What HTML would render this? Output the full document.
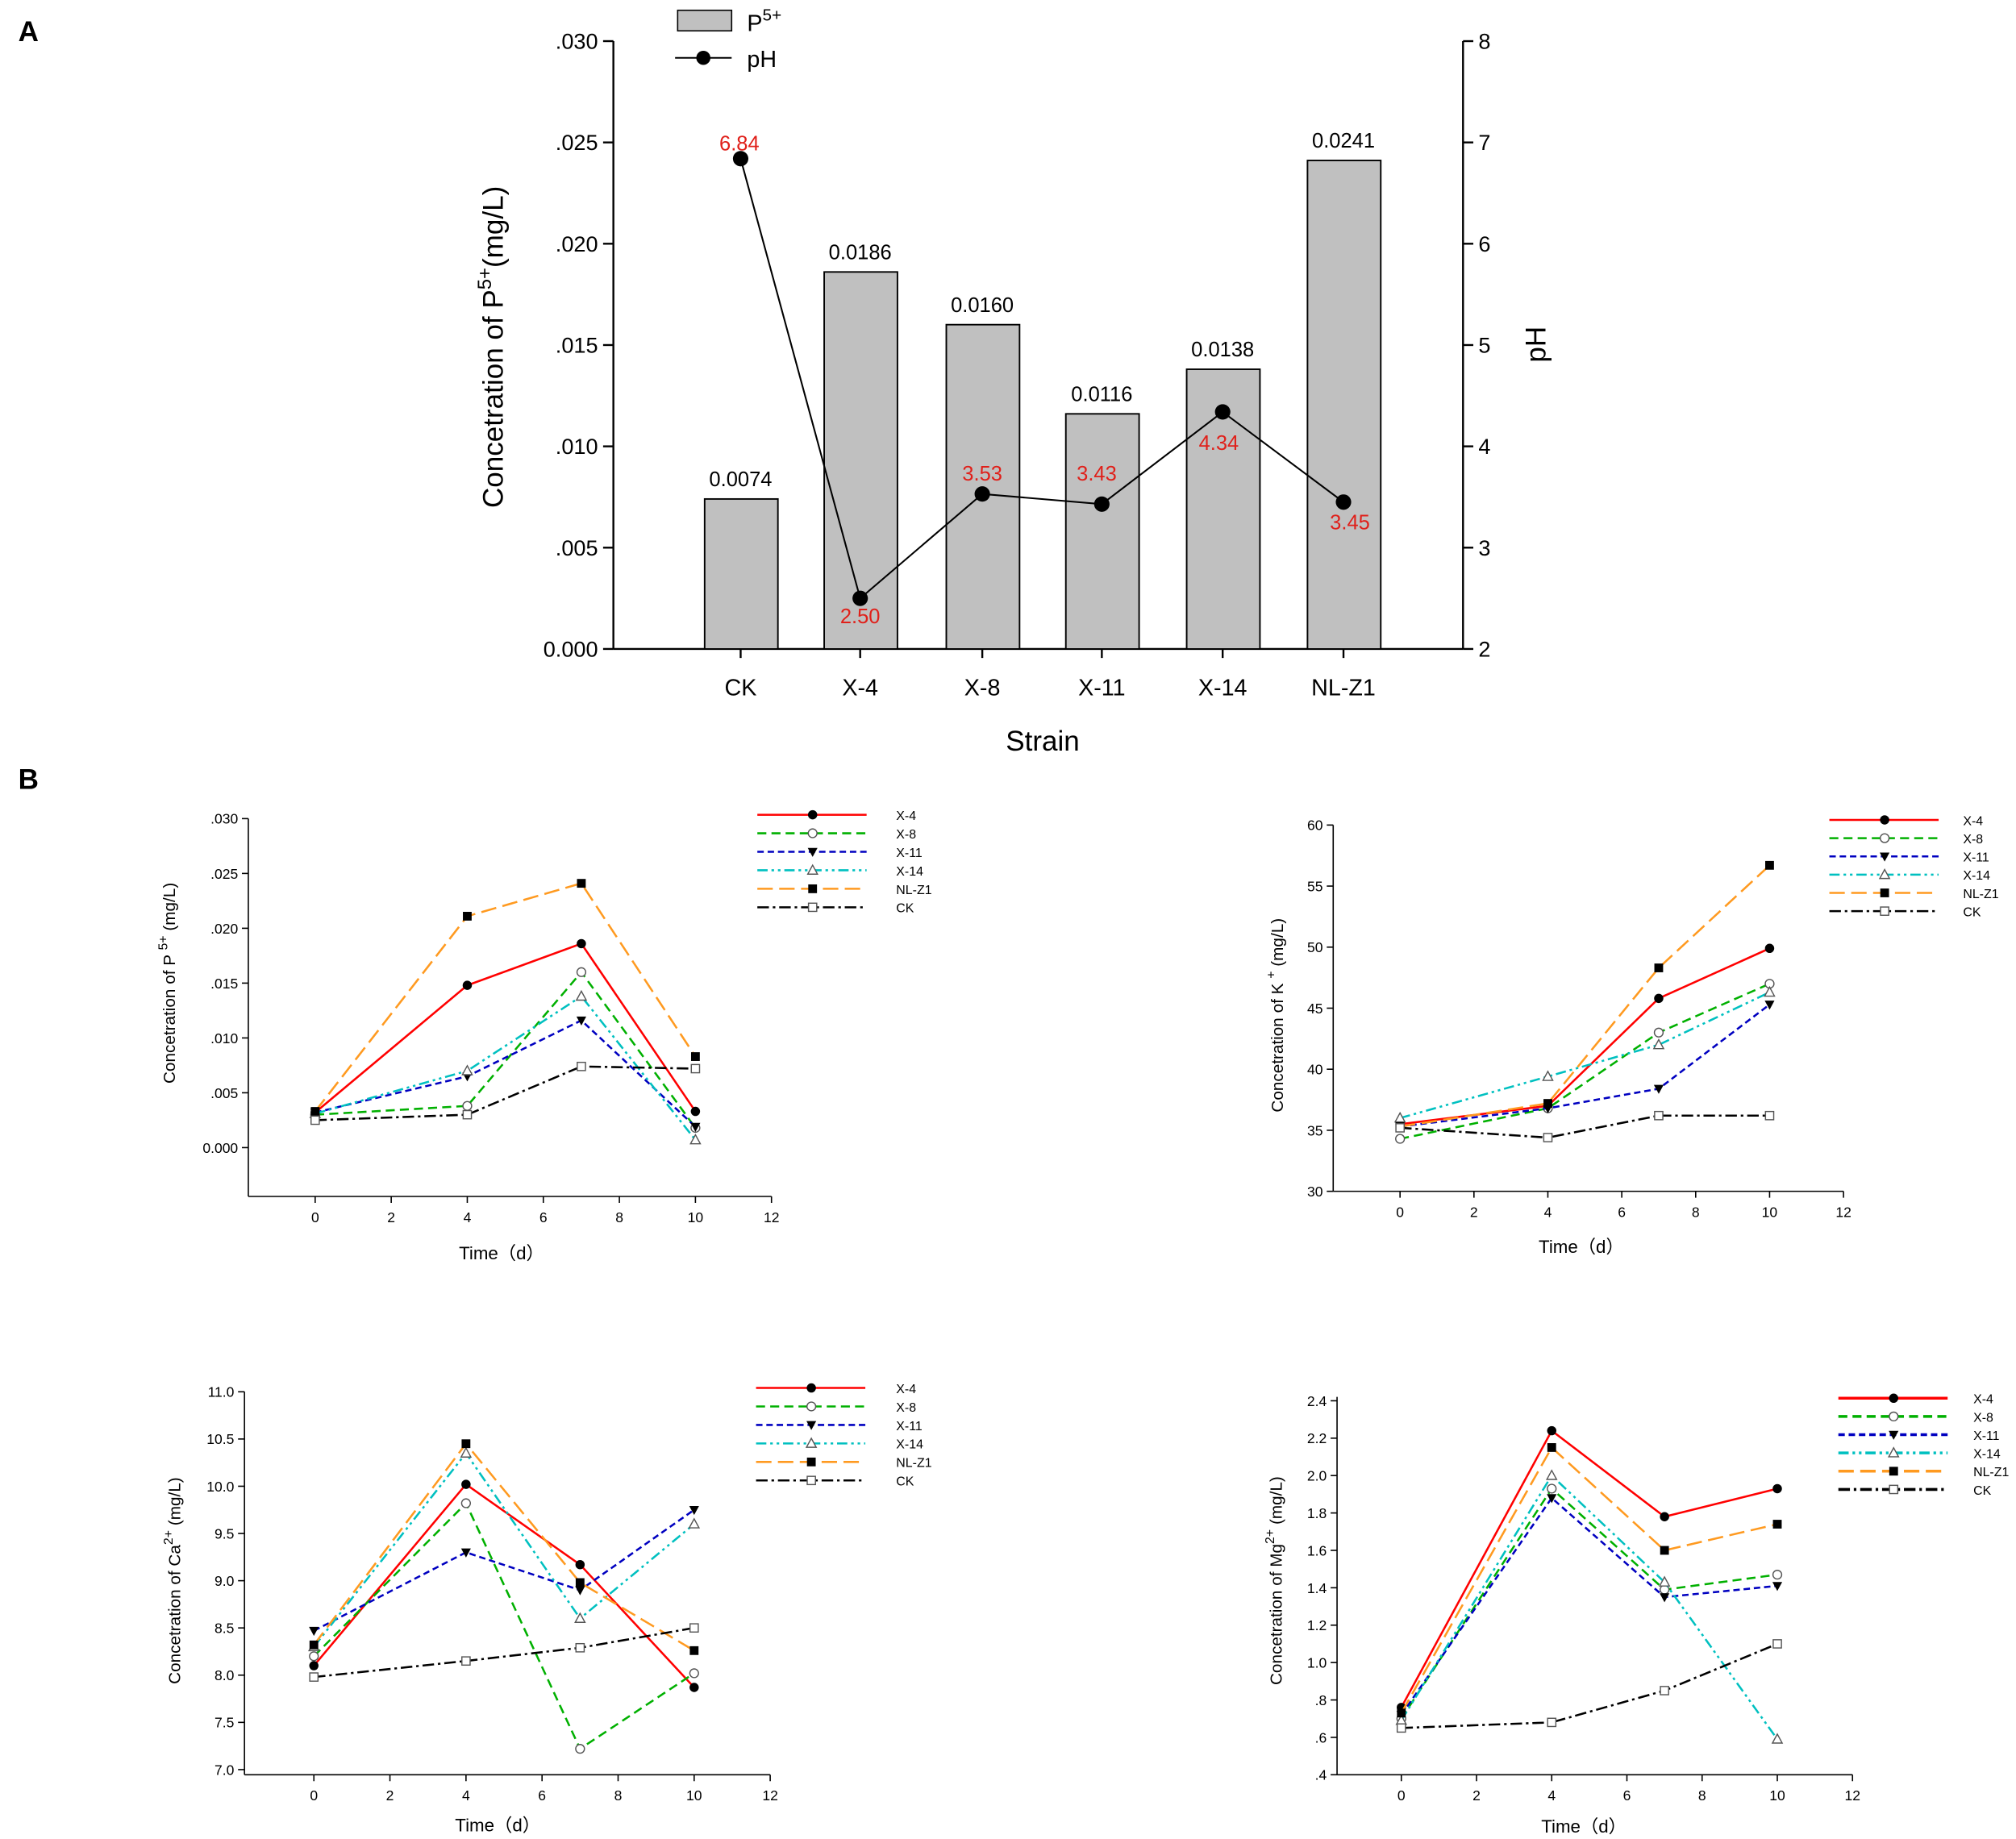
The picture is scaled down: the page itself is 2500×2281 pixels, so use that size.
<!DOCTYPE html>
<html><head><meta charset="utf-8"><style>html,body{margin:0;padding:0;background:#fff}svg{display:block}text{font-family:"Liberation Sans",Arial,sans-serif}</style></head>
<body>
<svg id="s" xmlns="http://www.w3.org/2000/svg" width="2500" height="2281" viewBox="0 0 1568 1431">
<rect width="1568" height="1431" fill="#fff"/>
<text x="14" y="32" font-size="22" font-weight="bold">A</text>
<text x="14" y="614" font-size="22" font-weight="bold">B</text>
<g id="A" stroke="#000" stroke-width="1.5" fill="none">
<line x1="477" y1="32" x2="477" y2="505"/><line x1="477" y1="505" x2="1138" y2="505"/><line x1="1138" y1="32" x2="1138" y2="505"/>
</g>
<g id="gA"></g>
<g id="gB"></g>
</svg>
<script>
var S=document.getElementById('s'),NS='http://www.w3.org/2000/svg';
function el(t,a,txt,p){var e=document.createElementNS(NS,t);for(var k in a)e.setAttribute(k,a[k]);if(txt!=null)e.textContent=txt;(p||S).appendChild(e);return e;}
// Panel A
var lt=['.030','.025','.020','.015','.010','.005','0.000'];
for(var i=0;i<7;i++){var y=32+i*78.83;el('line',{x1:469,y1:y,x2:477,y2:y,stroke:'#000','stroke-width':1.5});el('text',{x:465,y:y+6,'font-size':17,'text-anchor':'end'},lt[i]);
el('line',{x1:1138,y1:y,x2:1146,y2:y,stroke:'#000','stroke-width':1.5});el('text',{x:1150,y:y+6,'font-size':17},String(8-i));}
var bx=[576,669,764,857,951,1045],bn=['CK','X-4','X-8','X-11','X-14','NL-Z1'],bv=[.0074,.0186,.016,.0116,.0138,.0241],bl=['0.0074','0.0186','0.0160','0.0116','0.0138','0.0241'];
var ph=[6.84,2.50,3.53,3.43,4.34,3.45],phl=['6.84','2.50','3.53','3.43','4.34','3.45'],phy=[117,485,374,374,350,412],phx=[575,669,764,853,948,1050];
var pts=[];
for(var i=0;i<6;i++){var h=bv[i]*15773;el('rect',{x:bx[i]-28,y:505-h,width:57,height:h,fill:'#c0c0c0',stroke:'#000','stroke-width':1.2});
el('text',{x:bx[i],y:505-h-10,'font-size':16,'text-anchor':'middle'},bl[i]);
el('text',{x:bx[i],y:541,'font-size':18,'text-anchor':'middle'},bn[i]);
el('line',{x1:bx[i],y1:505,x2:bx[i],y2:512,stroke:'#000','stroke-width':1.5});
pts.push(bx[i]+','+(505-(ph[i]-2)*78.83));}
el('polyline',{points:pts.join(' '),fill:'none',stroke:'#000','stroke-width':1.3});
for(var i=0;i<6;i++){var p=pts[i].split(',');el('circle',{cx:p[0],cy:p[1],r:6,fill:'#000'});el('text',{x:phx[i],y:phy[i],'font-size':16,fill:'#e0201a','text-anchor':'middle'},phl[i]);}
el('text',{x:811,y:584,'font-size':22,'text-anchor':'middle'},'Strain');
var t=el('text',{x:0,y:0,'font-size':22,'text-anchor':'middle',transform:'translate(391,270) rotate(-90)'},'Concetration of P');
var ts=el('tspan',{dy:-9,'font-size':15},'5+',t);el('tspan',{dy:9},'(mg/L)',t);
el('text',{x:0,y:0,'font-size':22,'text-anchor':'middle',transform:'translate(1202,268) rotate(-90)'},'pH');
el('rect',{x:527,y:8,width:42,height:16,fill:'#c0c0c0',stroke:'#000','stroke-width':1});
var t2=el('text',{x:581,y:24,'font-size':18},'P');el('tspan',{dy:-8,'font-size':13},'5+',t2);
el('line',{x1:525,y1:45,x2:569,y2:45,stroke:'#000','stroke-width':1.3});el('circle',{cx:547,cy:45,r:5.5,fill:'#000'});
el('text',{x:581,y:52,'font-size':18},'pH');
// Panel B
var ser=[{n:'X-4',c:'#ff0000',d:'',m:'fc'},{n:'X-8',c:'#00b000',d:'7,4',m:'oc'},{n:'X-11',c:'#0000c0',d:'5,3',m:'ft'},{n:'X-14',c:'#00c0c0',d:'8,3,2,3,2,3',m:'ot'},{n:'NL-Z1',c:'#ff9a20',d:'12,5',m:'fs'},{n:'CK',c:'#000',d:'9,3,2,3',m:'os'}];
function mk(x,y,m,c){if(m=='fc')el('circle',{cx:x,cy:y,r:3.6,fill:'#000'});else if(m=='oc')el('circle',{cx:x,cy:y,r:3.4,fill:'#fff',stroke:'#555','stroke-width':0.9});
else if(m=='ft')el('polygon',{points:(x-3.8)+','+(y-3)+' '+(x+3.8)+','+(y-3)+' '+x+','+(y+4),fill:'#000'});
else if(m=='ot')el('polygon',{points:(x-3.8)+','+(y+3)+' '+(x+3.8)+','+(y+3)+' '+x+','+(y-4),fill:'#fff',stroke:'#555','stroke-width':0.9});
else if(m=='fs')el('rect',{x:x-3.4,y:y-3.4,width:6.8,height:6.8,fill:'#000'});else el('rect',{x:x-3.2,y:y-3.2,width:6.4,height:6.4,fill:'#fff',stroke:'#555','stroke-width':0.9});}
function plot(o){el('line',{x1:o.ax,y1:o.yt,x2:o.ax,y2:o.ab,stroke:'#000','stroke-width':1});el('line',{x1:o.ax,y1:o.ab,x2:o.x12,y2:o.ab,stroke:'#000','stroke-width':1});
for(var i=0;i<o.yl.length;i++){var y=o.y0+(o.y1-o.y0)*i/(o.yl.length-1);el('line',{x1:o.ax-5,y1:y,x2:o.ax,y2:y,stroke:'#000','stroke-width':1});el('text',{x:o.ax-8,y:y+4,'font-size':11,'text-anchor':'end'},o.yl[i]);}
for(var k=0;k<=12;k+=2){var x=o.x0+(o.x12-o.x0)*k/12;el('line',{x1:x,y1:o.ab,x2:x,y2:o.ab+5,stroke:'#000','stroke-width':1});el('text',{x:x,y:o.ab+20,'font-size':11,'text-anchor':'middle'},String(k));}
el('text',{x:o.tx,y:o.ty,'font-size':14,'text-anchor':'middle'},'Time（d）');
var t=el('text',{x:0,y:0,'font-size':13,'text-anchor':'middle',transform:'translate('+o.lx+','+o.ly+') rotate(-90)'},o.lab[0]);el('tspan',{dy:-6,'font-size':10},o.lab[1],t);el('tspan',{dy:6},o.lab[2],t);
var xs=[0,4,7,10];
for(var s=0;s<6;s++){var pp=[];for(var j=0;j<4;j++){pp.push([o.x0+(o.x12-o.x0)*xs[j]/12,o.y0+(o.y1-o.y0)*(o.vmax-o.d[s][j])/(o.vmax-o.vmin)]);}
el('polyline',{points:pp.map(function(p){return p.join(',')}).join(' '),fill:'none',stroke:ser[s].c,'stroke-width':1.6,'stroke-dasharray':ser[s].d});
for(var j=0;j<4;j++)mk(pp[j][0],pp[j][1],ser[s].m);
var ly=o.lg[2]+s*o.lg[3];el('line',{x1:o.lg[0],y1:ly,x2:o.lg[0]+85,y2:ly,stroke:ser[s].c,'stroke-width':o.lw,'stroke-dasharray':ser[s].d});mk(o.lg[0]+43,ly,ser[s].m);
el('text',{x:o.lg[1],y:ly+4,'font-size':10},ser[s].n);}}
plot({ax:193,yt:637,ab:931,y0:637,y1:893,vmax:.030,vmin:0,x0:245,x12:600,yl:['.030','.025','.020','.015','.010','.005','0.000'],tx:390,ty:980,lx:136,ly:765,lab:['Concetration of P ','5+',' (mg/L)'],lg:[589,697,634,14.4],lw:1.6,
d:[[.0032,.0148,.0186,.0033],[.003,.0038,.016,.0018],[.0032,.0065,.0116,.0019],[.0031,.007,.0138,.0007],[.0033,.0211,.0241,.0083],[.0025,.003,.0074,.0072]]});
plot({ax:1037,yt:642,ab:927,y0:642,y1:927,vmax:60,vmin:30,x0:1089,x12:1434,yl:['60','55','50','45','40','35','30'],tx:1230,ty:975,lx:998,ly:790,lab:['Concetration of K ','+','  (mg/L)'],lg:[1423,1527,638,14.2],lw:1.6,
d:[[35.5,37,45.8,49.9],[34.3,36.8,43,47],[35.3,36.8,38.4,45.3],[36,39.4,42,46.3],[35.3,37.2,48.3,56.7],[35.2,34.4,36.2,36.2]]});
plot({ax:190,yt:1083,ab:1381,y0:1083,y1:1377,vmax:11,vmin:7,x0:244,x12:599,yl:['11.0','10.5','10.0','9.5','9.0','8.5','8.0','7.5','7.0'],tx:387,ty:1425,lx:140,ly:1230,lab:['Concetration of Ca','2+',' (mg/L)'],lg:[588,697,1080,14.4],lw:1.6,
d:[[8.1,10.02,9.17,7.87],[8.2,9.82,7.22,8.02],[8.47,9.3,8.9,9.75],[8.3,10.35,8.6,9.6],[8.32,10.45,8.98,8.26],[7.98,8.15,8.29,8.5]]});
plot({ax:1040,yt:1087,ab:1381,y0:1090,y1:1381,vmax:2.4,vmin:.4,x0:1090,x12:1441,yl:['2.4','2.2','2.0','1.8','1.6','1.4','1.2','1.0','.8','.6','.4'],tx:1232,ty:1426,lx:997,ly:1230,lab:['Concetration of Mg','2+',' (mg/L)'],lg:[1430,1535,1088,14.2],lw:2.2,
d:[[.76,2.24,1.78,1.93],[.7,1.93,1.39,1.47],[.72,1.88,1.35,1.41],[.69,2.0,1.43,.59],[.73,2.15,1.6,1.74],[.65,.68,.85,1.1]]});
</script>
</body></html>
